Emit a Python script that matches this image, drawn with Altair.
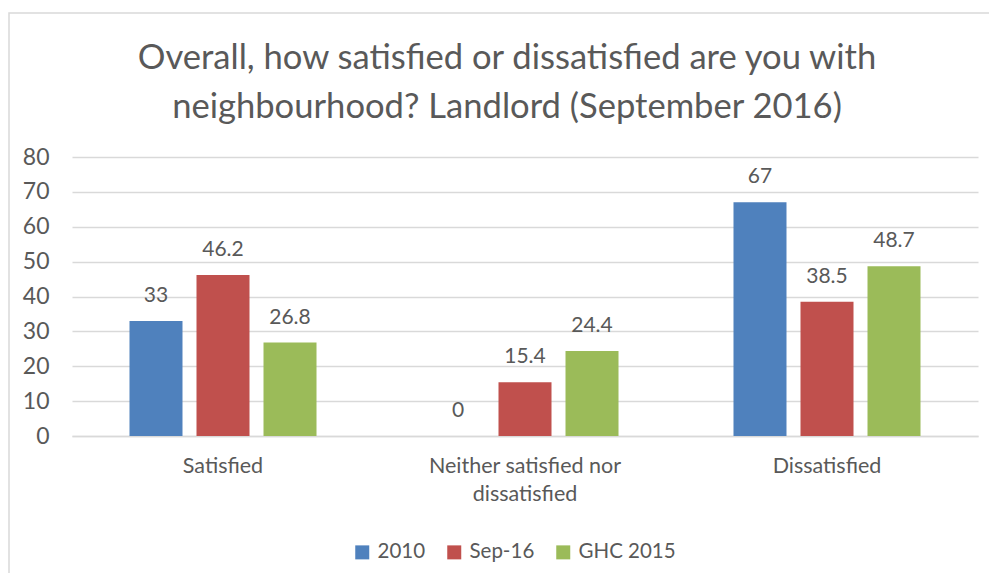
import altair as alt
import pandas as pd

categories = ["Satisfied", "Neither satisfied nor dissatisfied", "Dissatisfied"]
series = ["2010", "Sep-16", "GHC 2015"]
values_2010 = [33, 0, 67]
values_sep16 = [46.2, 15.4, 38.5]
values_ghc2015 = [26.8, 24.4, 48.7]
colors = ["#4f81bd", "#c0504d", "#9bbb59"]
y_ticks = [0, 10, 20, 30, 40, 50, 60, 70, 80]
title_lines = ["Overall, how satisfied or dissatisfied are you with",
               "neighbourhood? Landlord (September 2016)"]

rows = []
for s, vals in zip(series, [values_2010, values_sep16, values_ghc2015]):
    for c, v in zip(categories, vals):
        rows.append({"category": c, "series": s, "value": v, "label": str(v)})
df = pd.DataFrame(rows)

FONT = "Lato"
TXT = "#595959"
W, H = 906, 279

x_enc = alt.X("category:N", sort=categories,
              scale=alt.Scale(paddingInner=0, paddingOuter=0),
              axis=alt.Axis(title=None, labelAngle=0, ticks=False, domain=True,
                            domainColor="#d9d9d9", domainWidth=1.5,
                            labelFontSize=21.5, labelColor=TXT, labelFont=FONT,
                            labelPadding=19, labelLimit=400, labelLineHeight=28,
                            labelExpr="datum.value == 'Neither satisfied nor dissatisfied' ? ['Neither satisfied nor', 'dissatisfied'] : datum.value"))
xo_enc = alt.XOffset("series:N", sort=series,
                     scale=alt.Scale(paddingInner=0.209, paddingOuter=0.858))
y_enc = alt.Y("value:Q", scale=alt.Scale(domain=[0, 80]),
              axis=alt.Axis(values=y_ticks, title=None, domain=False, ticks=False,
                            gridColor="#d9d9d9", gridWidth=1.5, labelOverlap=False,
                            labelFontSize=23, labelColor=TXT, labelFont=FONT,
                            labelPadding=23))
color_enc = alt.Color("series:N", sort=series,
                      scale=alt.Scale(domain=series, range=colors),
                      legend=alt.Legend(title=None, orient="none", direction="horizontal",
                                        legendX=280, legendY=385,
                                        symbolType="square", symbolSize=196,
                                        symbolStrokeWidth=0,
                                        labelFontSize=20.5, labelColor=TXT, labelFont=FONT,
                                        labelOffset=5, columnPadding=18))

bars = alt.Chart(df).mark_bar().encode(x=x_enc, xOffset=xo_enc, y=y_enc, color=color_enc)
texts = alt.Chart(df).mark_text(baseline="alphabetic", dy=-19, fontSize=21,
                                font=FONT, color=TXT).encode(
    x=x_enc, xOffset=xo_enc, y=y_enc, text="label:N")

frame = alt.Chart(pd.DataFrame({"f": [0]})).mark_rect(
    fillOpacity=0, stroke="#d9d9d9", strokeWidth=1.5).encode(
    x=alt.value(-63), x2=alt.value(1200), y=alt.value(-144), y2=alt.value(800))

chart = alt.layer(frame, bars, texts).properties(
    width=W, height=H,
    autosize=alt.AutoSizeParams(type="none"),
    padding={"left": 64, "top": 149, "right": 11, "bottom": 137},
    title=alt.TitleParams(title_lines, fontSize=34.6, font=FONT, fontWeight="normal",
                          color=TXT, lineHeight=49, anchor="middle", dx=-18, dy=133,
                          offset=20),
).configure_view(stroke=None)

chart.save("out.html", embed_options={"renderer": "svg", "actions": False})
